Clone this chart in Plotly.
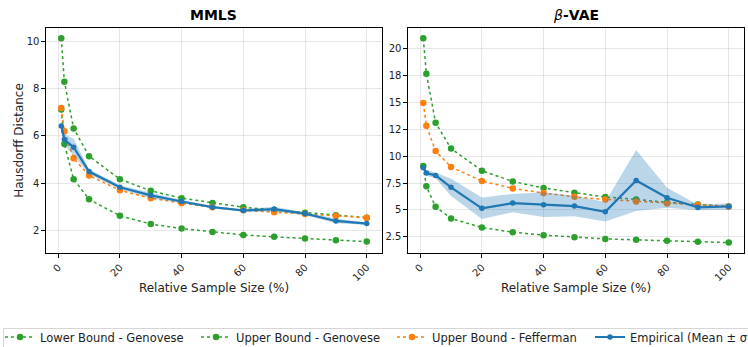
import plotly.graph_objects as go

# Relative sample sizes (%)
sample_sizes = [1, 2, 5, 10, 20, 30, 40, 50, 60, 70, 80, 90, 100]

# MMLS
mmls_lower_genovese = [7.12, 5.66, 4.18, 3.33, 2.64, 2.29, 2.10, 1.96, 1.83, 1.75, 1.68, 1.61, 1.55]
mmls_upper_genovese = [10.12, 8.29, 6.32, 5.15, 4.18, 3.69, 3.38, 3.18, 3.00, 2.88, 2.77, 2.66, 2.56]
mmls_upper_fefferman = [7.18, 6.20, 5.06, 4.34, 3.71, 3.38, 3.17, 3.00, 2.87, 2.79, 2.71, 2.63, 2.56]
mmls_emp_mean = [6.42, 5.85, 5.53, 4.50, 3.84, 3.50, 3.24, 3.00, 2.86, 2.92, 2.73, 2.42, 2.31]
mmls_emp_std = [0.05, 0.22, 0.35, 0.10, 0.08, 0.12, 0.06, 0.04, 0.06, 0.10, 0.06, 0.10, 0.05]

# beta-VAE
vae_lower_genovese = [9.07, 7.19, 5.29, 4.21, 3.37, 2.93, 2.66, 2.47, 2.31, 2.22, 2.13, 2.04, 1.97]
vae_upper_genovese = [20.95, 17.65, 13.1, 10.7, 8.64, 7.65, 7.03, 6.60, 6.20, 5.98, 5.70, 5.51, 5.32]
vae_upper_fefferman = [14.94, 12.83, 10.47, 8.99, 7.68, 7.00, 6.57, 6.22, 5.98, 5.79, 5.60, 5.48, 5.32]
vae_emp_mean = [8.92, 8.43, 8.21, 7.10, 5.15, 5.64, 5.49, 5.36, 4.83, 7.74, 6.13, 5.23, 5.32]
vae_emp_std = [0.12, 0.25, 0.27, 0.80, 1.00, 0.85, 1.15, 0.95, 0.90, 2.83, 0.93, 0.25, 0.30]

vae_tick_vals = [2.5, 5, 7.5, 10, 12.5, 15, 17.5, 20]
vae_tick_text = ["2.5", "5", "7.5", "10", "12", "15", "18", "20"]
mmls_tick_vals = [2, 4, 6, 8, 10]
x_tick_vals = [0, 20, 40, 60, 80, 100]

GREEN = "#2ca02c"
ORANGE = "#ff7f0e"
BLUE = "#1f77b4"
FONT = "DejaVu Sans, Verdana, sans-serif"

fig = go.Figure()


def add_panel(xa, ya, lower, upper, feff, mean, std, show):
    fig.add_trace(go.Scatter(
        x=sample_sizes, y=lower, xaxis=xa, yaxis=ya, mode="lines+markers",
        name="Lower Bound - Genovese", legendgroup="lg", showlegend=show,
        line=dict(color=GREEN, width=1.5, dash="dot"),
        marker=dict(color=GREEN, size=6.5)))
    fig.add_trace(go.Scatter(
        x=sample_sizes, y=upper, xaxis=xa, yaxis=ya, mode="lines+markers",
        name="Upper Bound - Genovese", legendgroup="ug", showlegend=show,
        line=dict(color=GREEN, width=1.5, dash="dot"),
        marker=dict(color=GREEN, size=6.5)))
    fig.add_trace(go.Scatter(
        x=sample_sizes, y=feff, xaxis=xa, yaxis=ya, mode="lines+markers",
        name="Upper Bound - Fefferman", legendgroup="uf", showlegend=show,
        line=dict(color=ORANGE, width=1.5, dash="dot"),
        marker=dict(color=ORANGE, size=6.5)))
    hi = [m + s for m, s in zip(mean, std)]
    lo = [m - s for m, s in zip(mean, std)]
    fig.add_trace(go.Scatter(
        x=sample_sizes + sample_sizes[::-1], y=hi + lo[::-1],
        xaxis=xa, yaxis=ya, mode="lines", fill="toself",
        fillcolor="rgba(31,119,180,0.3)", line=dict(width=0),
        showlegend=False, hoverinfo="skip", legendgroup="emp",
        legend="legend2"))
    fig.add_trace(go.Scatter(
        x=sample_sizes, y=mean, xaxis=xa, yaxis=ya, mode="lines+markers",
        name="Empirical (Mean ± σ)", legendgroup="emp", showlegend=show,
        legend="legend2",
        line=dict(color=BLUE, width=2.2),
        marker=dict(color=BLUE, size=5.5)))


add_panel("x", "y", mmls_lower_genovese, mmls_upper_genovese,
          mmls_upper_fefferman, mmls_emp_mean, mmls_emp_std, True)
add_panel("x2", "y2", vae_lower_genovese, vae_upper_genovese,
          vae_upper_fefferman, vae_emp_mean, vae_emp_std, False)

W, H = 748, 347
y_dom = [1 - 253 / H, 1 - 28 / H]

axis_common = dict(
    showline=True, linecolor="black", linewidth=1.2, mirror=True,
    ticks="outside", ticklen=3.5, tickwidth=1, tickcolor="black",
    showgrid=True, gridcolor="rgba(176,176,176,0.3)", gridwidth=0.8,
    zeroline=False, tickfont=dict(family=FONT, size=10, color="#222"),
    automargin=False,
)

legend_common = dict(
    orientation="h", xanchor="left", y=1 - 322.5 / H, yanchor="top",
    borderwidth=0, bgcolor="rgba(0,0,0,0)",
    font=dict(family=FONT, size=11.5, color="#222"),
    traceorder="normal", itemwidth=30,
)

fig.update_layout(
    width=W, height=H,
    margin=dict(l=0, r=0, t=0, b=0, autoexpand=False),
    paper_bgcolor="white", plot_bgcolor="white",
    font=dict(family=FONT, color="#222"),
    xaxis=dict(domain=[46 / W, 382 / W], range=[-3.95, 104.95],
               tickvals=x_tick_vals, tickangle=-45, anchor="y",
               title=dict(text="Relative Sample Size (%)",
                          font=dict(family=FONT, size=12), standoff=1),
               **axis_common),
    yaxis=dict(domain=y_dom, range=[1.07, 10.55], tickvals=mmls_tick_vals,
               anchor="x",
               title=dict(text="Hausdorff Distance",
                          font=dict(family=FONT, size=12), standoff=0),
               **axis_common),
    xaxis2=dict(domain=[408 / W, 744 / W], range=[-3.95, 104.95],
                tickvals=x_tick_vals, tickangle=-45, anchor="y2",
                title=dict(text="Relative Sample Size (%)",
                           font=dict(family=FONT, size=12), standoff=1),
                **axis_common),
    yaxis2=dict(domain=y_dom, range=[1.0, 21.9], tickvals=vae_tick_vals,
                ticktext=vae_tick_text, anchor="x2", **axis_common),
    legend=dict(x=0, entrywidth=151, entrywidthmode="pixels",
                **legend_common),
    legend2=dict(x=590 / W, **legend_common),
    shapes=[
        # legend frame
        dict(type="rect", xref="paper", yref="paper", layer="below",
             x0=3.5 / W, x1=1.05, y0=-0.05, y1=1 - 328.5 / H,
             line=dict(color="#d6d6d6", width=1), fillcolor="white"),
    ],
    annotations=[
        dict(text="<b>MMLS</b>", x=(46 + 382) / 2 / W, y=1 - 15 / H,
             xref="paper", yref="paper", showarrow=False,
             xanchor="center", yanchor="middle",
             font=dict(family=FONT, size=14, color="black")),
        dict(text="<i>β</i><b>-VAE</b>", x=(408 + 744) / 2 / W, y=1 - 15 / H,
             xref="paper", yref="paper", showarrow=False,
             xanchor="center", yanchor="middle",
             font=dict(family=FONT, size=14, color="black")),
    ],
)

fig.write_html("out.html")
